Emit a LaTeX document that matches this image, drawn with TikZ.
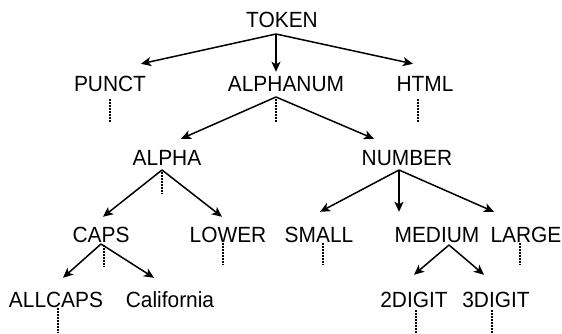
\documentclass[tikz,border=0pt]{standalone}
\usepackage{fontspec}
\setmainfont{Liberation Sans}[FakeStretch=0.95]
\usetikzlibrary{arrows.meta}

\begin{document}
\begin{tikzpicture}[x=1pt, y=-1pt,
    lbl/.style={anchor=base, inner sep=0pt, text height=15pt, text depth=0pt,
      font=\fontsize{22}{24}\selectfont},
    edge/.style={line width=1.5pt, -{Stealth[length=10pt, width=9pt, inset=2.5pt]}},
    stub/.style={line width=1.3pt, dash pattern=on 1.3pt off 1.7pt}]
    \useasboundingbox (0, 0) rectangle (562, 333);

    % labels
    \node [lbl] (tok) at (282, 27) {TOKEN};
    \node [lbl] (punct) at (110, 91) {PUNCT};
    \node [lbl] (anum) at (286, 91) {ALPHANUM};
    \node [lbl] (html) at (425, 91) {HTML};
    \node [lbl] (alpha) at (167, 165) {ALPHA};
    \node [lbl] (num) at (407, 165) {NUMBER};
    \node [lbl] (caps) at (101, 242) {CAPS};
    \node [lbl] (lower) at (228, 242) {LOWER};
    \node [lbl] (small) at (319, 242) {SMALL};
    \node [lbl] (medium) at (437, 242) {MEDIUM};
    \node [lbl] (large) at (526, 242) {LARGE};
    \node [lbl] (allcaps) at (56, 307) {ALLCAPS};
    \node [lbl] (calif) at (170, 307) {California};
    \node [lbl] (twodig) at (414, 307) {2DIGIT};
    \node [lbl] (threedig) at (496, 307) {3DIGIT};

    % forks
    \coordinate (tok-f) at (276, 34);
    \coordinate (anum-f) at (276, 97);
    \coordinate (alpha-f) at (162, 170);
    \coordinate (num-f) at (399, 170);
    \coordinate (caps-f) at (101, 244);
    \coordinate (medium-f) at (449, 245);

    \draw [edge] (tok-f) -- ([xshift=31pt, yshift=12pt]punct.north);
    \draw [edge] (tok-f) -- ([xshift=-10pt, yshift=4pt]anum.north);
    \draw [edge] (tok-f) -- ([xshift=-12pt, yshift=12pt]html.north);

    \draw [edge] (anum-f) -- ([xshift=14pt, yshift=11pt]alpha.north);
    \draw [edge] (anum-f) -- ([xshift=-33pt, yshift=11pt]num.north);

    \draw [edge] (alpha-f) -- ([xshift=2pt, yshift=10pt]caps.north);
    \draw [edge] (alpha-f) -- ([xshift=-6pt, yshift=10pt]lower.north);

    \draw [edge] (num-f) -- ([xshift=1pt, yshift=15pt]small.north);
    \draw [edge] (num-f) -- ([xshift=-38pt, yshift=15pt]medium.north);
    \draw [edge] (num-f) -- ([xshift=-32pt, yshift=15pt]large.north);

    \draw [edge] (caps-f) -- ([xshift=7pt, yshift=14pt]allcaps.north);
    \draw [edge] (caps-f) -- ([xshift=-16pt, yshift=14pt]calif.north);

    \draw [edge] (medium-f) -- ([yshift=17pt]twodig.north);
    \draw [edge] (medium-f) -- ([xshift=-12pt, yshift=17pt]threedig.north);

    % dotted stubs
    \draw [stub] ([yshift=-8pt]punct.south) -- +(0, 23);
    \draw [stub] ([xshift=-10pt, yshift=-8pt]anum.south) -- +(0, 23);
    \draw [stub] ([xshift=-7pt, yshift=-8pt]html.south) -- +(0, 23);
    \draw [stub] ([xshift=-5pt, yshift=-7pt]alpha.south) -- +(0, 22);
    \draw [stub] ([xshift=3pt, yshift=-3pt]caps.south) -- +(0, 22);
    \draw [stub] ([xshift=-5pt, yshift=-1pt]lower.south) -- +(0, 22);
    \draw [stub] ([xshift=4pt, yshift=-1pt]small.south) -- +(0, 22);
    \draw [stub] ([xshift=-6pt, yshift=-1pt]large.south) -- +(0, 22);
    \draw [stub] ([xshift=2pt, yshift=-1pt]allcaps.south) -- +(0, 25);
    \draw [stub] ([xshift=2pt, yshift=-3pt]twodig.south) -- +(0, 23);
    \draw [stub] ([xshift=-4pt, yshift=-3pt]threedig.south) -- +(0, 23);
  \end{tikzpicture}
\end{document}
